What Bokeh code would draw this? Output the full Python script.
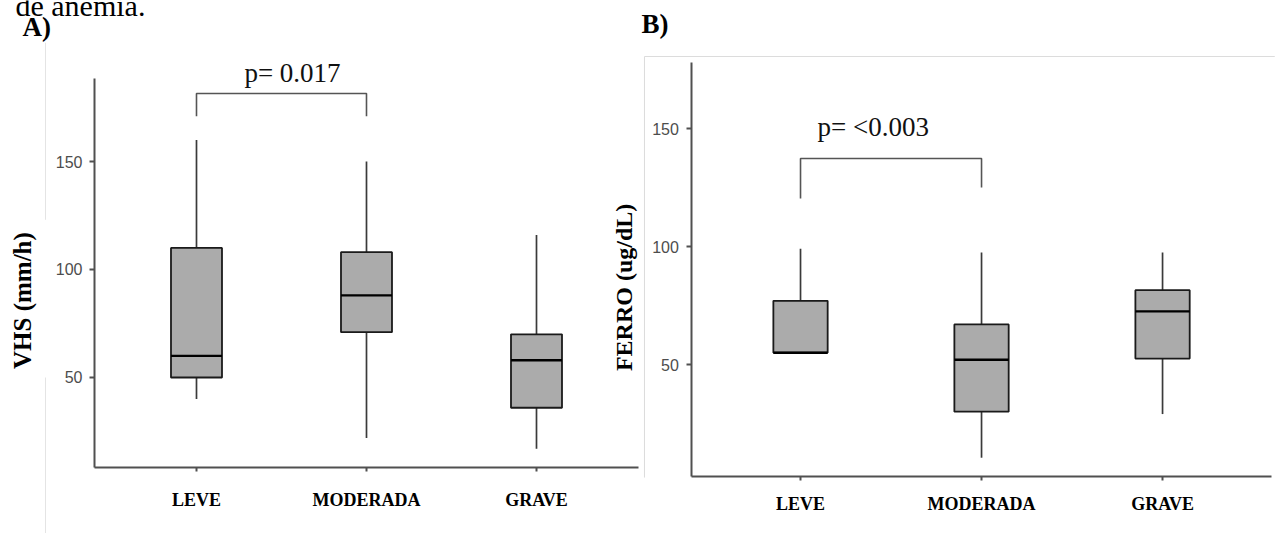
import math
from bokeh.plotting import figure
from bokeh.models import Range1d, FixedTicker, Label, ColumnDataSource
from bokeh.layouts import row
from bokeh.embed import file_html
from bokeh.resources import INLINE

# ---------------- data ----------------
categories = ["LEVE", "MODERADA", "GRAVE"]

# Panel A: VHS (mm/h)
vhs_min = [40, 22, 17]
vhs_q1 = [50, 71, 36]
vhs_median = [60, 88, 58]
vhs_q3 = [110, 108, 70]
vhs_max = [160, 150, 116]

# Panel B: FERRO (ug/dL)
ferro_min = [55, 10.5, 29]
ferro_q1 = [55, 30, 52.5]
ferro_median = [55, 52, 72.5]
ferro_q3 = [77, 67, 81.5]
ferro_max = [99, 97.5, 97.5]

y_ticks = [50, 100, 150]

# significance brackets: heights of (left end, top, right end)
bracket_a_pair = ["LEVE", "MODERADA"]
bracket_a_y = [171, 181.5, 171]
p_text_a = "p= 0.017"
bracket_b_pair = ["LEVE", "MODERADA"]
bracket_b_y = [120.3, 137.3, 125]
p_text_b = "p=  <0.003"

SERIF = "Liberation Serif"
SANS = "Liberation Sans"
AXIS_COL = "#505050"

pos = list(range(len(categories)))
cat_pos = {c: i for i, c in enumerate(categories)}


def make_panel(width, x_range, y_range, y_axis_at, x_axis_at, x_bounds, y_bounds,
               mins, q1s, meds, q3s, maxs):
    p = figure(
        width=width, height=534,
        x_range=x_range, y_range=y_range,
        output_backend="svg", toolbar_location=None,
        min_border=0,
    )
    p.outline_line_color = None
    p.grid.grid_line_color = None
    p.background_fill_color = "white"
    p.border_fill_color = "white"

    src = ColumnDataSource(dict(x=pos, lo=mins, q1=q1s, med=meds, q3=q3s, hi=maxs))
    p.segment(x0="x", y0="lo", x1="x", y1="q1", source=src,
              line_color="#3a3a3a", line_width=1.7)
    p.segment(x0="x", y0="q3", x1="x", y1="hi", source=src,
              line_color="#3a3a3a", line_width=1.7)
    p.vbar(x="x", bottom="q1", top="q3", width=0.3, source=src,
           fill_color="#ababab", line_color="#1a1a1a", line_width=1.8)
    p.vbar(x="x", bottom="med", top="med", width=0.3, source=src,
           fill_color=None, line_color="#000000", line_width=2.4)

    xa = p.xaxis[0]
    ya = p.yaxis[0]
    xa.fixed_location = x_axis_at
    ya.fixed_location = y_axis_at
    xa.bounds = x_bounds
    ya.bounds = y_bounds
    for ax in (xa, ya):
        ax.axis_line_color = AXIS_COL
        ax.axis_line_width = 2
        ax.major_tick_line_color = AXIS_COL
        ax.major_tick_line_width = 2
        ax.major_tick_in = 0
        ax.minor_tick_line_color = None

    xa.ticker = FixedTicker(ticks=pos)
    xa.major_label_overrides = {i: c for i, c in enumerate(categories)}
    xa.major_tick_out = 4
    xa.major_label_text_font = SERIF
    xa.major_label_text_font_style = "bold"
    xa.major_label_text_font_size = "18px"
    xa.major_label_text_color = "black"

    ya.ticker = FixedTicker(ticks=y_ticks)
    ya.major_tick_out = 5
    ya.major_label_text_font = SANS
    ya.major_label_text_font_size = "16px"
    ya.major_label_text_color = "#4d4d4d"
    ya.major_label_standoff = 7
    return p


def label(p, x, y, text, size, bold=False, align="left", angle=0.0,
          baseline="alphabetic", font=SERIF, color="black"):
    p.add_layout(Label(x=x, y=y, text=text, angle=angle, text_align=align,
                       text_baseline=baseline, text_font=font,
                       text_font_style="bold" if bold else "normal",
                       text_font_size=size, text_color=color))


# ---------------- panel A ----------------
pA = make_panel(640, Range1d(-1.1529, 2.6118), Range1d(-22.69, 224.54),
                -0.6, 8.3, (-0.6, 2.6), (8.3, 188.4),
                vhs_min, vhs_q1, vhs_median, vhs_q3, vhs_max)
pA.xaxis.major_label_standoff = 18

ax_a = [cat_pos[bracket_a_pair[0]], cat_pos[bracket_a_pair[0]],
        cat_pos[bracket_a_pair[1]], cat_pos[bracket_a_pair[1]]]
pA.line(x=ax_a, y=[bracket_a_y[0], bracket_a_y[1], bracket_a_y[1], bracket_a_y[2]],
        line_color="#555555", line_width=1.6)

# faint scan edge lines
pA.line(x=[-0.888, -0.888], y=[205, 123], line_color="#e4e4e4", line_width=1)
pA.line(x=[-0.888, -0.888], y=[50, -22], line_color="#e4e4e4", line_width=1)

label(pA, 0.5647, 190.8, p_text_a, "27px", align="center", color="#111111")
label(pA, -1.0235, 85.6, "VHS (mm/h)", "25px", bold=True, align="center",
      angle=math.pi / 2, baseline="middle")
label(pA, -1.0235, 212.5, "A)", "27px", bold=True)
label(pA, -1.0647, 222.0, "de anemia.", "30px")
# B panel's y title sits in this area of the page
label(pA, 2.512, 91.7, "FERRO (ug/dL)", "24px", bold=True, align="center",
      angle=math.pi / 2, baseline="middle")

# ---------------- panel B ----------------
pB = make_panel(635, Range1d(-0.884, 2.624), Range1d(-22.03, 204.24),
                -0.6, 2.5, (-0.6, 2.6), (2.5, 178),
                ferro_min, ferro_q1, ferro_median, ferro_q3, ferro_max)
pB.xaxis.major_label_standoff = 13
pB.yaxis.major_label_standoff = 8

ax_b = [cat_pos[bracket_b_pair[0]], cat_pos[bracket_b_pair[0]],
        cat_pos[bracket_b_pair[1]], cat_pos[bracket_b_pair[1]]]
pB.line(x=ax_b, y=[bracket_b_y[0], bracket_b_y[1], bracket_b_y[1], bracket_b_y[2]],
        line_color="#555555", line_width=1.6)

# light frame of the B image
pB.line(x=[-0.862, -0.862, 2.62], y=[2.1, 180.5, 180.5],
        line_color="#dcdcdc", line_width=1)

label(pB, 0.42, 150.8, p_text_b, "27px", align="center", color="#111111")
label(pB, -0.879, 194.1, "B)", "27px", bold=True)

layout = row(pA, pB, spacing=0)
open("out.html", "w").write(file_html(layout, INLINE))
